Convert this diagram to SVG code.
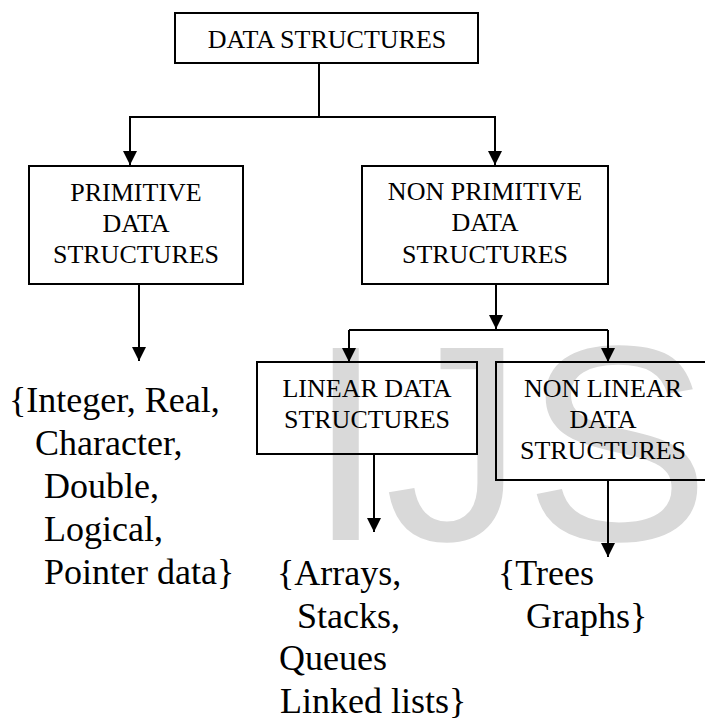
<svg xmlns="http://www.w3.org/2000/svg" width="705" height="718" viewBox="0 0 705 718">
<style>
.box{fill:none;stroke:#000;stroke-width:2}
.lbl{font-size:26px;fill:#000;text-anchor:middle}
.lst{font-size:36px;fill:#000}
.wm{font-family:'Liberation Sans',sans-serif;font-size:279px;fill:#d9d9d9}
.con{fill:none;stroke:#000;stroke-width:2}
</style>
<defs>
<marker id="arr" viewBox="0 0 10 10" refX="10" refY="5" markerWidth="14" markerHeight="15" markerUnits="userSpaceOnUse" orient="auto">
<path d="M0,0 L10,5 L0,10 z" fill="#000"/>
</marker>
</defs>
<rect width="705" height="718" fill="#fff"/>
<text class="wm" x="307" y="540">IJS</text>
<g id="connectors">
<path class="con" d="M319,63 V117 H130 V165" marker-end="url(#arr)"/>
<path class="con" d="M319,117 H495 V165" marker-end="url(#arr)"/>
<path class="con" d="M139,284 V361" marker-end="url(#arr)"/>
<path class="con" d="M496,284 V329" marker-end="url(#arr)"/>
<path class="con" d="M349,330 H608"/>
<path class="con" d="M349,330 V362" marker-end="url(#arr)"/>
<path class="con" d="M608,330 V362" marker-end="url(#arr)"/>
<path class="con" d="M374,454 V532" marker-end="url(#arr)"/>
<path class="con" d="M608,480 V557" marker-end="url(#arr)"/>
</g>
<g font-family="Liberation Serif, Tinos, Times New Roman, Nimbus Roman, FreeSerif, DejaVu Serif, serif">
<g id="data-structures">
<rect class="box" x="175" y="13" width="303" height="50"/>
<text class="lbl" x="327" y="48">DATA STRUCTURES</text>
</g>
<g id="primitive">
<rect class="box" x="29" y="166" width="214" height="118"/>
<text class="lbl" x="136" y="201">PRIMITIVE</text>
<text class="lbl" x="136" y="232">DATA</text>
<text class="lbl" x="136" y="263">STRUCTURES</text>
</g>
<g id="non-primitive">
<rect class="box" x="362" y="166" width="246" height="118"/>
<text class="lbl" x="485" y="200">NON PRIMITIVE</text>
<text class="lbl" x="485" y="231">DATA</text>
<text class="lbl" x="485" y="263">STRUCTURES</text>
</g>
<g id="linear">
<rect class="box" x="257" y="362" width="220" height="92"/>
<text class="lbl" x="367" y="397">LINEAR DATA</text>
<text class="lbl" x="367" y="428">STRUCTURES</text>
</g>
<g id="non-linear">
<rect class="box" x="496" y="362" width="220" height="118"/>
<text class="lbl" x="603" y="397">NON LINEAR</text>
<text class="lbl" x="603" y="428">DATA</text>
<text class="lbl" x="603" y="459">STRUCTURES</text>
</g>
<g id="primitive-list">
<text class="lst" x="9" y="412">{Integer, Real,</text>
<text class="lst" x="35" y="455">Character,</text>
<text class="lst" x="44" y="498">Double,</text>
<text class="lst" x="44" y="541">Logical,</text>
<text class="lst" x="44" y="584">Pointer data}</text>
</g>
<g id="linear-list">
<text class="lst" x="277" y="585">{Arrays,</text>
<text class="lst" x="297" y="628">Stacks,</text>
<text class="lst" x="279" y="670">Queues</text>
<text class="lst" x="280" y="713">Linked lists}</text>
</g>
<g id="non-linear-list">
<text class="lst" x="498" y="585">{Trees</text>
<text class="lst" x="526" y="628">Graphs}</text>
</g>
</g>
</svg>
